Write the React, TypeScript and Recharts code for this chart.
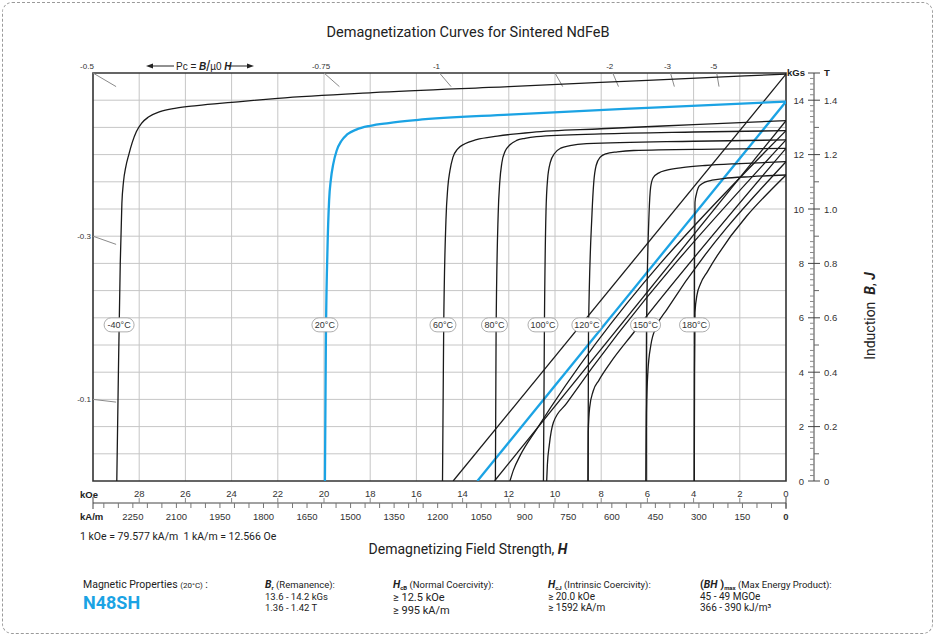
import React from 'react'
import { LineChart, Line, XAxis, YAxis, CartesianGrid, ReferenceLine, ReferenceDot, ReferenceArea } from 'recharts'

const temps = ['-40°C', '20°C', '60°C', '80°C', '100°C', '120°C', '150°C', '180°C']
const tempLabelH = [28.87, 19.96, 14.85, 12.62, 10.52, 8.62, 6.08, 3.96]
const tempLabelB = 5.74
const curveColors = ['#1a1a1a', '#1ba3e4', '#1a1a1a', '#1a1a1a', '#1a1a1a', '#1a1a1a', '#1a1a1a', '#1a1a1a']

// intrinsic curves J(H): [H kOe, J kGs]
const jM40 = [[28.97, 0], [28.9, 4], [28.82, 8], [28.75, 10.2], [28.68, 11.0], [28.58, 11.55], [28.45, 12.0], [28.3, 12.45], [28.12, 12.85], [27.9, 13.15], [27.6, 13.38], [27.1, 13.58], [26.4, 13.71], [25.5, 13.8], [24, 13.92], [22, 14.07], [17.9, 14.28], [12, 14.5], [6, 14.73], [0, 14.96]]
const j20 = [[19.96, 0], [19.92, 5], [19.85, 8.5], [19.78, 10.3], [19.7, 11.1], [19.6, 11.65], [19.45, 12.15], [19.25, 12.5], [19.0, 12.74], [18.6, 12.92], [18.0, 13.06], [17.2, 13.16], [16, 13.27], [12, 13.47], [6, 13.72], [0, 13.95]]
const j60 = [[14.87, 0], [14.82, 5.5], [14.72, 9.6], [14.64, 10.8], [14.55, 11.4], [14.42, 11.9], [14.22, 12.2], [13.9, 12.4], [13.4, 12.55], [12.5, 12.68], [11, 12.82], [8, 12.95], [4, 13.1], [0, 13.25]]
const j80 = [[12.58, 0], [12.55, 5.5], [12.46, 9.8], [12.39, 11.0], [12.3, 11.7], [12.16, 12.12], [11.95, 12.36], [11.66, 12.52], [11.3, 12.6], [10.8, 12.66], [8, 12.76], [4, 12.83], [0, 12.88]]
const j100 = [[10.5, 0], [10.46, 5.5], [10.39, 9.9], [10.32, 11.1], [10.2, 11.72], [10.02, 12.04], [9.75, 12.24], [9.35, 12.33], [8.63, 12.4], [4, 12.49], [0, 12.54]]
const j120 = [[8.57, 0], [8.55, 5.5], [8.4, 9.8], [8.32, 11.0], [8.22, 11.6], [8.05, 11.9], [7.8, 12.03], [7.3, 12.1], [6.6, 12.15], [3, 12.2], [0, 12.23]]
const j150 = [[6.06, 0], [6.04, 5.5], [5.93, 9.8], [5.86, 10.8], [5.75, 11.15], [5.52, 11.32], [5.16, 11.43], [4.5, 11.52], [3.5, 11.6], [2, 11.67], [0, 11.74]]
const j180 = [[3.97, 0], [3.96, 8], [3.94, 10.25], [3.88, 10.55], [3.8, 10.78], [3.68, 10.9], [3.51, 10.99], [3.2, 11.06], [2.71, 11.12], [1.5, 11.19], [0, 11.25]]

// normal curves B(H)
const bM40 = [[14.41, 0], [0, 14.96]]
const b20 = [[13.36, 0], [0, 13.95]]
const b60 = [[12.62, 0], [0, 13.25]]
const b80 = [[11.95, 0], [11.8, 0.4], [11.5, 0.95], [10.8, 1.9], [0, 12.88]]
const b100 = [[10.36, 0], [10.33, 0.6], [10.25, 1.3], [10.07, 2.15], [9.5, 2.85], [0, 12.54]]
const b120 = [[8.57, 0], [8.56, 1.8], [8.5, 2.7], [8.35, 3.3], [8.1, 3.7], [7.6, 4.35], [6.6, 5.45], [0, 12.23]]
const b150 = [[6.06, 0], [6.04, 2.5], [5.98, 4.0], [5.85, 5.0], [5.6, 5.7], [5.16, 6.3], [0, 11.74]]
const b180 = [[3.97, 0], [3.96, 4], [3.94, 6.2], [3.85, 6.85], [3.7, 7.25], [3.4, 7.7], [0, 11.25]]

const jCurves = [jM40, j20, j60, j80, j100, j120, j150, j180]
const bCurves = [bM40, b20, b60, b80, b100, b120, b150, b180]

const koeTicks = [30, 28, 26, 24, 22, 20, 18, 16, 14, 12, 10, 8, 6, 4, 2, 0]
const kamLabels = [2250, 2100, 1950, 1800, 1650, 1500, 1350, 1200, 1050, 900, 750, 600, 450, 300, 150, 0]
const kamTicks = Array.from({ length: 48 }, (_, i) => i * 50)
const KAM_PER_KOE = 79.577
const kgsLabels = [0, 2, 4, 6, 8, 10, 12, 14]
const teslaLabels = ['0', '0.2', '0.4', '0.6', '0.8', '1.0', '1.2', '1.4']
const rTicks = Array.from({ length: 76 }, (_, i) => i / 5)
const pcValues = [0.5, 0.75, 1, 1.5, 2, 3, 5, 0.3, 0.1]
const pcLabels = ['-0.5', '-0.75', '-1', '', '-2', '-3', '-5', '-0.3', '-0.1']
const vGrid = [2, 4, 6, 8, 10, 12, 14, 16, 18, 20, 22, 24, 26, 28]
const hGrid = [1, 2, 3, 4, 5, 6, 7, 8, 9, 10, 11, 12, 13, 14]

const TICK_FONT = "'Liberation Sans', Arial, sans-serif"
const TEXT_FONT = "Roboto, 'Noto Sans', sans-serif"
const BLUE = '#1ba3e4'
const RULER = 22 // px between plot bottom and the kA/m ruler

const toPts = (arr: number[][]) => arr.map(([h, b]) => ({ h, b }))

const KoeTick = ({ x, y, payload }: any) => {
  const v = payload.value
  const edge = v === 0 || v === 30
  return (
    <g>
      {edge
        ? <line x1={x} x2={x} y1={y + 16} y2={y + 28} stroke="#444" />
        : <line x1={x} x2={x} y1={y + 17} y2={y + 22} stroke="#888" />}
      {v !== 30 && (
        <text x={x} y={y + 16} textAnchor="middle" fontSize={9.5} fontFamily={TICK_FONT} fill="#333">{v}</text>
      )}
    </g>
  )
}

const kamTick = (v: number) => (p: any) => (
  <g>
    <line x1={p.cx} x2={p.cx} y1={p.cy + RULER} y2={p.cy + RULER + 5} stroke="#777" />
    {kamLabels.includes(v) && (
      <text x={p.cx} y={p.cy + RULER + 17} textAnchor="middle" fontSize={9.5} fontFamily={TICK_FONT}
        fontWeight={v === 0 ? 'bold' : 'normal'} fill="#333">{v}</text>
    )}
  </g>
)

const RightTick = ({ x, y, payload }: any) => {
  const k = Math.round(payload.value * 5)
  if (k === 75) {
    return (
      <g fontFamily={TICK_FONT} fontSize={9.5} fontWeight="bold" fill="#222">
        <line x1={x - 6} x2={x + 6} y1={y} y2={y} stroke="#444" />
        <text x={x - 9} y={y + 3} textAnchor="end">kGs</text>
        <text x={x + 10} y={y + 3}>T</text>
      </g>
    )
  }
  if (k % 10 === 0) {
    const i = kgsLabels.indexOf(k / 5)
    return (
      <g fontFamily={TICK_FONT} fontSize={9.5} fill="#333">
        <line x1={x - 6} x2={x + 6} y1={y} y2={y} stroke="#444" />
        <text x={x - 10} y={y + 3.5} textAnchor="end">{kgsLabels[i]}</text>
        <text x={x + 10} y={y + 3.5}>{teslaLabels[i]}</text>
      </g>
    )
  }
  if (k % 5 === 0) return <line x1={x} x2={x + 5} y1={y} y2={y} stroke="#666" />
  return <line x1={x - 4} x2={x} y1={y} y2={y} stroke="#888" />
}

const pill = (label: string) => (props: any) => {
  const { cx, cy } = props
  const w = label.length > 4 ? 30 : 26
  return (
    <g>
      <rect x={cx - w / 2} y={cy - 7} width={w} height={14} rx={7} ry={7} fill="#fff" stroke="#999" strokeWidth={0.8} />
      <text x={cx} y={cy + 3.2} textAnchor="middle" fontSize={9} fontFamily={TICK_FONT} fill="#333">{label}</text>
    </g>
  )
}

export default function App() {
  return (
    <div style={{ position: 'fixed', left: 0, top: 0, width: 936, height: 636, background: '#fff' }}>
      <div style={{ position: 'absolute', left: 2, top: 2, width: 931, height: 632, boxSizing: 'border-box', border: '1px dashed #9a9a9a', borderRadius: 10 }} />
      <div style={{ position: 'absolute', left: 0, top: 0 }}>
        <LineChart width={936} height={636} margin={{ top: 73, right: 62, bottom: 103, left: 93 }}>
          <CartesianGrid xAxisId="koe" yAxisId="l" stroke="#c6c6c6" verticalValues={vGrid} horizontalValues={hGrid} />
          <XAxis xAxisId="koe" type="number" dataKey="h" domain={[0, 30]} reversed allowDataOverflow ticks={koeTicks} interval={0}
            axisLine={false} tickLine={false} tickSize={0} tickMargin={0} height={52} tick={(p: any) => <KoeTick {...p} />} />
          <YAxis yAxisId="l" type="number" domain={[0, 15]} hide allowDataOverflow />
          <YAxis yAxisId="pad" orientation="right" type="number" domain={[0, 15]} width={28} axisLine={false} tickLine={false} tick={false} />
          <YAxis yAxisId="r" orientation="right" type="number" domain={[0, 15]} width={60} allowDataOverflow ticks={rTicks} interval={0}
            axisLine={{ stroke: '#444' }} tickLine={false} tickSize={0} tickMargin={0} tick={(p: any) => <RightTick {...p} />} />
          <ReferenceArea xAxisId="koe" yAxisId="l" x1={0} x2={30} y1={0} y2={15} fill="none" stroke="#333" strokeWidth={1.6} ifOverflow="visible" />
          {/* kA/m ruler under the kOe labels */}
          <ReferenceLine xAxisId="koe" yAxisId="l" segment={[{ x: 30, y: 0 }, { x: 0, y: 0 }]} ifOverflow="visible"
            shape={(p: any) => <line x1={p.x1} x2={p.x2} y1={p.y1 + RULER} y2={p.y2 + RULER} stroke="#444" strokeWidth={1} />} />
          {kamTicks.map(v => (
            <ReferenceDot key={'kam' + v} xAxisId="koe" yAxisId="l" x={v / KAM_PER_KOE} y={0} r={0} ifOverflow="visible" shape={kamTick(v)} />
          ))}
          {pcValues.map((a, i) => {
            const top = 15 / a <= 30
            const p1 = top ? { x: 15 / a, y: 15 } : { x: 30, y: 30 * a }
            const p2 = top ? { x: 14.5 / a, y: 14.5 } : { x: 29, y: 29 * a }
            return <ReferenceLine key={'pc' + i} xAxisId="koe" yAxisId="l" segment={[p1, p2]} stroke="#8a8a8a" strokeWidth={1} ifOverflow="visible" />
          })}
          {pcValues.map((a, i) => {
            const top = 15 / a <= 30
            const x = top ? 15 / a : 30
            const y = top ? 15 : 30 * a
            const lbl = pcLabels[i]
            return (
              <ReferenceDot key={'pcl' + i} xAxisId="koe" yAxisId="l" x={x} y={y} r={0} ifOverflow="visible"
                shape={(p: any) => top
                  ? <text x={p.cx - (a === 0.5 ? 6 : 3)} y={p.cy - 4} textAnchor="middle" fontSize={8} fontFamily={TICK_FONT} fill="#333">{lbl}</text>
                  : <text x={p.cx - 2} y={p.cy + 3} textAnchor="end" fontSize={8} fontFamily={TICK_FONT} fill="#333">{lbl}</text>} />
            )
          })}
          {bCurves.map((c, i) => (
            <Line key={'b' + i} xAxisId="koe" yAxisId="l" data={toPts(c)} dataKey="b" type="monotone" stroke={curveColors[i]}
              strokeWidth={i === 1 ? 2.3 : 1.3} dot={false} activeDot={false} isAnimationActive={false} />
          ))}
          {jCurves.map((c, i) => (
            <Line key={'j' + i} xAxisId="koe" yAxisId="l" data={toPts(c)} dataKey="b" type="monotone" stroke={curveColors[i]}
              strokeWidth={i === 1 ? 2.3 : 1.3} dot={false} activeDot={false} isAnimationActive={false} />
          ))}
          {temps.map((t, i) => (
            <ReferenceDot key={'t' + i} xAxisId="koe" yAxisId="l" x={tempLabelH[i]} y={tempLabelB} r={0} ifOverflow="visible" shape={pill(t)} />
          ))}
        </LineChart>
      </div>
      <svg width={936} height={636} style={{ position: 'absolute', left: 0, top: 0, pointerEvents: 'none' }}>
        <text x={468} y={37} textAnchor="middle" fontSize={14.5} fontFamily={TEXT_FONT} fill="#222">Demagnetization Curves for Sintered NdFeB</text>
        <g stroke="#222" fill="#222">
          <line x1={152} x2={174} y1={66} y2={66} strokeWidth={1} />
          <polygon points="146,66 153,63.5 153,68.5" stroke="none" />
          <line x1={228} x2={248} y1={66} y2={66} strokeWidth={1} />
          <polygon points="254,66 247,63.5 247,68.5" stroke="none" />
        </g>
        <text x={176} y={69.5} fontSize={10} fontFamily={TICK_FONT} fill="#222">
          Pc = <tspan fontWeight="bold" fontStyle="italic">B</tspan><tspan fontSize={14} dy={1}>/</tspan><tspan dy={-1}>µ0 </tspan><tspan fontWeight="bold" fontStyle="italic">H</tspan>
        </text>
        <text x={80} y={498} fontSize={9.5} fontWeight="bold" fontFamily={TICK_FONT} fill="#222">kOe</text>
        <text x={80} y={520} fontSize={9.5} fontWeight="bold" fontFamily={TICK_FONT} fill="#222">kA/m</text>
        <text x={80} y={540} fontSize={10.5} fontFamily={TEXT_FONT} fill="#222">1 kOe = 79.577 kA/m{'\u00a0\u00a0'}1 kA/m = 12.566 Oe</text>
        <text x={468} y={554} textAnchor="middle" fontSize={14} fontFamily={TEXT_FONT} fill="#222">
          Demagnetizing Field Strength, <tspan fontWeight="bold" fontStyle="italic">H</tspan>
        </text>
        <text transform="translate(875,316) rotate(-90)" textAnchor="middle" fontSize={14} fontFamily={TEXT_FONT} fill="#222">
          Induction{'\u00a0\u00a0'}<tspan fontWeight="bold" fontStyle="italic">B</tspan>,{'\u00a0'}<tspan fontWeight="bold" fontStyle="italic">J</tspan>
        </text>
        <g fontFamily={TEXT_FONT} fill="#222">
          <text x={83} y={588} fontSize={10.5}>Magnetic Properties <tspan fontSize={8}>(20°C)</tspan> :</text>
          <text x={83} y={609} fontSize={18} fontWeight="bold" fill={BLUE}>N48SH</text>

          <text x={265} y={588} fontSize={9.5}><tspan fontWeight="bold" fontStyle="italic" fontSize={10.5}>B</tspan><tspan fontSize={6} fontWeight="bold" dy={1.5}>r</tspan><tspan dy={-1.5}> (Remanence):</tspan></text>
          <text x={265} y={599.5} fontSize={9.5}>13.6 - 14.2 kGs</text>
          <text x={265} y={610.5} fontSize={9.5}>1.36 - 1.42 T</text>

          <text x={393} y={588} fontSize={9.5}><tspan fontWeight="bold" fontStyle="italic" fontSize={10.5}>H</tspan><tspan fontSize={6} fontWeight="bold" dy={1.5}>cB</tspan><tspan dy={-1.5}> (Normal Coercivity):</tspan></text>
          <text x={393} y={601} fontSize={11}>≥ 12.5 kOe</text>
          <text x={393} y={613.5} fontSize={11}>≥ 995 kA/m</text>

          <text x={548} y={588} fontSize={9.5}><tspan fontWeight="bold" fontStyle="italic" fontSize={10.5}>H</tspan><tspan fontSize={6} fontWeight="bold" dy={1.5}>cJ</tspan><tspan dy={-1.5}> (Intrinsic Coercivity):</tspan></text>
          <text x={548} y={599.5} fontSize={10}>≥ 20.0 kOe</text>
          <text x={548} y={610.5} fontSize={10}>≥ 1592 kA/m</text>

          <text x={700} y={588} fontSize={9.5}><tspan fontWeight="bold" fontSize={11}>(</tspan><tspan fontWeight="bold" fontStyle="italic" fontSize={10.5}>BH</tspan><tspan fontWeight="bold" fontSize={11}> )</tspan><tspan fontSize={6} fontWeight="bold" dy={1.5}>max</tspan><tspan dy={-1.5}> (Max Energy Product):</tspan></text>
          <text x={700} y={599.5} fontSize={10}>45 - 49 MGOe</text>
          <text x={700} y={610.5} fontSize={10}>366 - 390 kJ/m³</text>
        </g>
      </svg>
    </div>
  )
}
